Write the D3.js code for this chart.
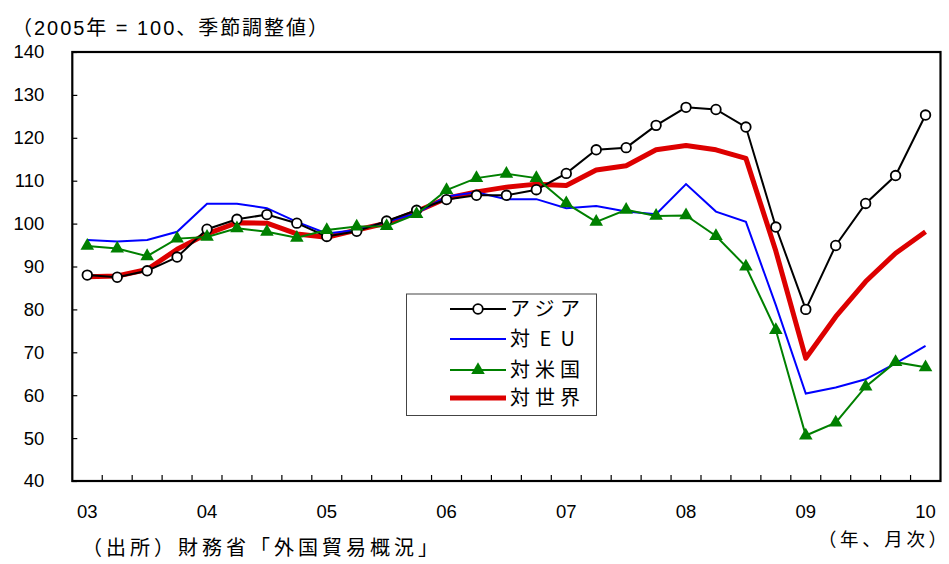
<!DOCTYPE html>
<html><head><meta charset="utf-8">
<script src="https://cdn.jsdelivr.net/npm/d3@7"></script>
<style>
html,body{margin:0;padding:0;background:#fff;}
svg{display:block;}
text{font-family:"Liberation Sans","Noto Sans CJK JP",sans-serif;fill:#000;}
.jp{font-family:"Noto Sans CJK JP","Liberation Sans",sans-serif;}
</style></head>
<body>
<svg id="chart" width="949" height="564"></svg>
<script>
// quarterly, 2003 Q1 .. 2010 Q1
const quarters = ["03","","","","04","","","","05","","","","06","","","","07","","","","08","","","","09","","","","10"];
const yTicks = [40,50,60,70,80,90,100,110,120,130,140];
const seriesNames = ["アジア","対 E U","対米国","対世界"];

const asia  = [88.0,87.5,89.0,92.2,98.7,101.0,102.1,100.1,97.0,98.2,100.6,103.1,105.6,106.6,106.6,107.9,111.7,117.2,117.7,122.9,127.1,126.6,122.5,99.2,80.0,94.9,104.7,111.2,125.3];
const eu    = [96.2,95.8,96.2,98.1,104.6,104.6,103.6,100.4,97.7,98.5,100.4,102.4,106.3,107.3,105.7,105.7,103.6,104.1,102.8,102.2,109.2,102.8,100.4,81.0,60.4,61.8,63.7,67.4,71.5];
const us    = [94.8,94.2,92.4,96.5,96.9,98.9,98.1,96.7,98.5,99.3,99.4,102.2,107.8,110.6,111.6,110.6,104.7,100.4,103.2,101.8,101.9,97.1,90.0,75.2,50.6,53.6,62.0,67.7,66.5];
const world = [87.6,87.8,89.3,94.0,97.6,100.2,100.1,97.6,96.8,98.5,100.1,102.8,105.9,107.4,108.5,109.2,108.9,112.5,113.5,117.2,118.2,117.2,115.2,93.6,68.6,78.3,86.5,93.1,98.1];

const svg = d3.select("#chart");
const L = 72.3, R = 940.5, T = 52, B = 481;

const x = d3.scalePoint().domain(d3.range(quarters.length)).range([L, R]).padding(0.5);
const y = d3.scaleLinear().domain([40,140]).range([B, T]);
const step = x.step();

// Y axis
const yAxis = d3.axisLeft(y).tickValues(yTicks).tickSizeInner(-5).tickSizeOuter(0).tickPadding(28);
const gy = svg.append("g").attr("transform",`translate(${L},0)`).call(yAxis);
gy.select(".domain").remove();
gy.selectAll(".tick line").attr("stroke","#000").attr("stroke-width",1.2);
gy.selectAll(".tick text").attr("font-size",18.5).attr("font-family","Liberation Sans, sans-serif");

// bottom ticks at quarter boundaries
const bounds = d3.range(1, quarters.length).map(i => x(i) - step/2);
svg.append("g").selectAll("line").data(bounds).join("line")
  .attr("x1",d=>d).attr("x2",d=>d).attr("y1",B).attr("y2",B-6)
  .attr("stroke","#000").attr("stroke-width",1.2);

// x labels
svg.append("g").selectAll("text").data(quarters.map((q,i)=>({q,i})).filter(d=>d.q!=="")).join("text")
  .attr("x",d=>x(d.i)).attr("y",512).attr("dy","0.35em").attr("text-anchor","middle")
  .attr("font-size",18.5).text(d=>d.q);

// frame
svg.append("rect").attr("x",L).attr("y",T).attr("width",R-L).attr("height",B-T)
  .attr("fill","none").attr("stroke","#000").attr("stroke-width",2.2);

const line = d3.line().x((d,i)=>x(i)).y(d=>y(d));

// World
svg.append("path").datum(world).attr("d",line).attr("fill","none")
  .attr("stroke","#dd0000").attr("stroke-width",5).attr("stroke-linejoin","round");
// EU
svg.append("path").datum(eu).attr("d",line).attr("fill","none")
  .attr("stroke","#0000ff").attr("stroke-width",2);
// Asia
svg.append("path").datum(asia).attr("d",line).attr("fill","none")
  .attr("stroke","#000").attr("stroke-width",2);
svg.append("g").selectAll("circle").data(asia).join("circle")
  .attr("cx",(d,i)=>x(i)).attr("cy",d=>y(d)).attr("r",4.8)
  .attr("fill","#fff").attr("stroke","#000").attr("stroke-width",1.8);
// US
svg.append("path").datum(us).attr("d",line).attr("fill","none")
  .attr("stroke","#008000").attr("stroke-width",2);
const tri = d3.symbol().type(d3.symbolTriangle).size(80);
svg.append("g").selectAll("path").data(us).join("path")
  .attr("d",tri).attr("transform",(d,i)=>`translate(${x(i)},${y(d)})`)
  .attr("fill","#008000");

// Legend
const lg = svg.append("g");
lg.append("rect").attr("x",406.5).attr("y",294).attr("width",190).attr("height",121.5)
  .attr("fill","#fff").attr("stroke","#444").attr("stroke-width",1);
const rows = [309,339,370,398];
const lens = [70,65,70,70];
const colors = ["#000","#0000ff","#008000","#dd0000"];
const widths = [2,2,2,5];
seriesNames.forEach((n,k)=>{
  lg.append("line").attr("x1",450).attr("x2",506).attr("y1",rows[k]).attr("y2",rows[k])
    .attr("stroke",colors[k]).attr("stroke-width",widths[k]);
  if(k===0) lg.append("circle").attr("cx",478).attr("cy",rows[k]).attr("r",4.8)
    .attr("fill","#fff").attr("stroke","#000").attr("stroke-width",1.8);
  if(k===2) lg.append("path").attr("d",tri).attr("transform",`translate(478,${rows[k]})`).attr("fill","#008000");
  lg.append("text").attr("class","jp").attr("x",510).attr("y",rows[k]).attr("dy","0.36em")
    .attr("font-size",20).attr("textLength",lens[k]).attr("lengthAdjust","spacing").text(n);
});

// titles
svg.append("text").attr("x",12).attr("y",28).attr("dy","0.36em").attr("font-size",20)
  .attr("textLength",316).attr("lengthAdjust","spacing").text("（2005年 = 100、季節調整値）");
svg.append("text").attr("class","jp").attr("x",82).attr("y",548).attr("dy","0.36em").attr("font-size",20)
  .attr("textLength",356).attr("lengthAdjust","spacing").text("（出所）財務省「外国貿易概況」");
svg.append("text").attr("class","jp").attr("x",818).attr("y",539).attr("dy","0.36em").attr("font-size",18.5)
  .attr("textLength",129).attr("lengthAdjust","spacing").text("（年、月次）");
</script>
</body></html>
